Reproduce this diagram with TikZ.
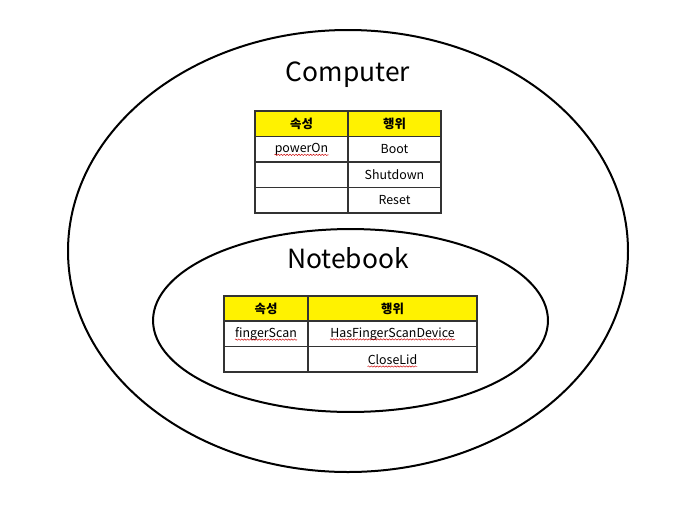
\documentclass[tikz,border=0pt]{standalone}
\usepackage{fontspec}
\setmainfont{Noto Sans CJK KR}
\usepackage{tikz}
\usetikzlibrary{decorations.pathmorphing}

\tikzset{
  cell/.style={draw=black!80, line width=1.2pt, minimum height=19.1pt, inner sep=0pt, font=\fontsize{9.3}{10}\selectfont},
  head/.style={cell, fill=yellow, font=\fontsize{9.3}{10}\selectfont\bfseries},
  word/.style={inner sep=0pt, font=\fontsize{9.3}{10}\selectfont},
  squig/.style={red!80!black, line width=0.35pt, decorate, decoration={snake, amplitude=0.5pt, segment length=2.2pt}},
  title/.style={font=\fontsize{19.8}{22}\selectfont}
}

\begin{document}
\begin{tikzpicture}[x=0.75pt, y=-0.75pt]
\useasboundingbox (0,0) rectangle (686,511);
\draw[line width=1.5pt] (348,251) ellipse (210pt and 165.75pt);
\draw[line width=1.5pt] (350.5,320.5) ellipse (148.1pt and 68.6pt);
\node[title] (comp) at (348,75) {Computer};
\node[title] (note) at (348,258) {Notebook};
% Computer table
\node[head, minimum width=69.75pt] (ca0) at (301.5,123.75) {속성};
\node[head, minimum width=69.75pt] (cb0) at (394.5,123.75) {행위};
\node[cell, minimum width=69.75pt] (ca1) at (301.5,149.25) {};
\node[cell, minimum width=69.75pt] (cb1) at (394.5,149.25) {Boot};
\node[cell, minimum width=69.75pt] (ca2) at (301.5,174.75) {};
\node[cell, minimum width=69.75pt] (cb2) at (394.5,174.75) {Shutdown};
\node[cell, minimum width=69.75pt] (ca3) at (301.5,200.25) {};
\node[cell, minimum width=69.75pt] (cb3) at (394.5,200.25) {Reset};
\node[word] (pw) at (ca1) {powerOn};
% Notebook table
\node[head, minimum width=63pt] (na0) at (266,308.5) {속성};
\node[head, minimum width=126.75pt] (nb0) at (392.5,308.5) {행위};
\node[cell, minimum width=63pt] (na1) at (266,333.75) {};
\node[cell, minimum width=126.75pt] (nb1) at (392.5,333.75) {};
\node[cell, minimum width=63pt] (na2) at (266,359.25) {};
\node[cell, minimum width=126.75pt] (nb2) at (392.5,359.25) {};
\node[word] (fs) at (na1) {fingerScan};
\node[word] (hf) at (nb1) {HasFingerScanDevice};
\node[word] (cl) at (nb2) {CloseLid};
% spell marks
\foreach \w in {pw,fs,hf,cl}
  \draw[squig] ([yshift=-1.8pt]\w.base west) -- ([yshift=-1.8pt]\w.base east);
\end{tikzpicture}
\end{document}
